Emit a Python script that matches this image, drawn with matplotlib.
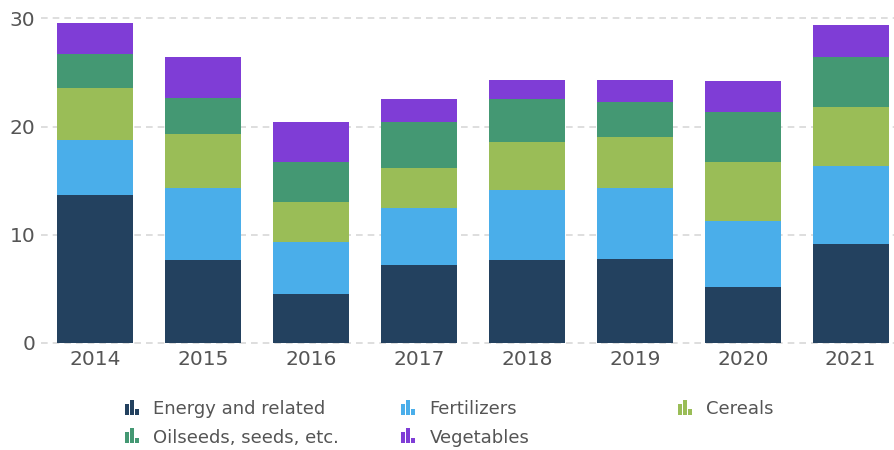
import matplotlib.pyplot as plt
import numpy as np
from matplotlib.patches import Rectangle

years = ["2014", "2015", "2016", "2017", "2018", "2019", "2020", "2021"]

energy = [13.7, 7.7, 4.55, 7.25, 7.7, 7.8, 5.2, 9.15]
fertilizers = [5.1, 6.65, 4.8, 5.25, 6.45, 6.55, 6.1, 7.2]
cereals = [4.8, 5.0, 3.7, 3.7, 4.45, 4.7, 5.45, 5.45]
oilseeds = [3.1, 3.3, 3.7, 4.25, 3.95, 3.25, 4.6, 4.6]
vegetables = [2.9, 3.8, 3.7, 2.1, 1.75, 2.0, 2.9, 2.95]

series_names = ["Energy and related", "Fertilizers", "Cereals",
                "Oilseeds, seeds, etc.", "Vegetables"]
series_colors = ["#23415f", "#4aaeea", "#9abd57", "#449873", "#7f3dd6"]

yticks = [0, 10, 20, 30]

W, H = 895, 450
fig = plt.figure(figsize=(W / 100, H / 100), dpi=100)
ax = fig.add_axes([41 / W, (H - 343) / H, (W - 41) / W, (343 - 18.3) / H])

x = np.arange(len(years))
bottom = np.zeros(len(years))
for vals, name, color in zip([energy, fertilizers, cereals, oilseeds, vegetables],
                             series_names, series_colors):
    ax.bar(x, vals, width=0.70, bottom=bottom, color=color, label=name, zorder=3)
    bottom += np.array(vals)

ax.set_xlim(-0.5, len(years) - 0.59)
ax.set_ylim(0, 30)
ax.set_yticks(yticks)
ax.set_xticks(x)
ax.set_xticklabels(years)
ax.grid(axis="y", color="#d8d8d8", linestyle=(0, (4, 3)), linewidth=1.2, zorder=0)
ax.grid(axis="x", visible=False)
for s in ax.spines.values():
    s.set_visible(False)
ax.tick_params(axis="both", length=0, labelsize=14.5, colors="#555555")
ax.tick_params(axis="x", pad=5)
ax.tick_params(axis="y", pad=4)
for line in ax.get_ygridlines():
    line.set_clip_on(False)

# legend with little bar-chart icons
for i, (name, color) in enumerate(zip(series_names, series_colors)):
    col, row = i % 3, i // 3
    px = 125 + 276.5 * col
    base = 414.5 + 28.5 * row
    for dx, h in [(0, 11), (5, 15), (10, 5.5)]:
        fig.add_artist(Rectangle(((px + dx) / W, (H - base) / H), 3.6 / W, h / H,
                                 transform=fig.transFigure, color=color, lw=0))
    fig.text((px + 28) / W, (H - base) / H, name, fontsize=13,
             color="#555555", va="baseline", ha="left")

fig.savefig("out.png", dpi=100)
